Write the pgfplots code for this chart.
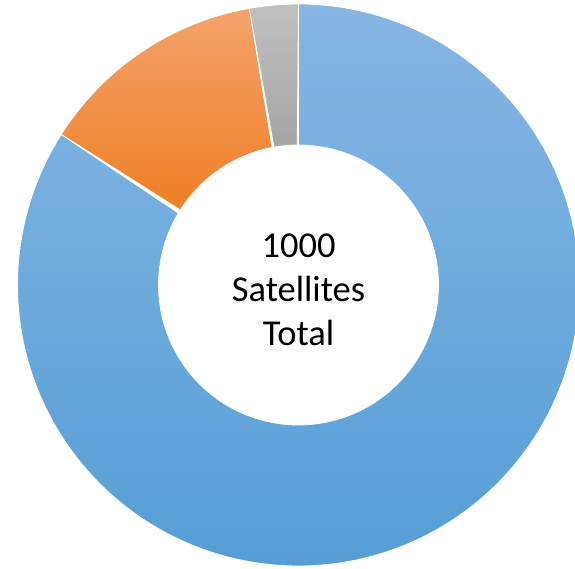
\documentclass[border=0pt]{standalone}
\usepackage{pgfplots}
\usepackage{pgfplotstable}
\pgfplotsset{compat=1.18}
\usepackage{fontspec}
\setmainfont{Carlito}
\definecolor{blueTop}{HTML}{86B6E4}
\definecolor{blueMid}{HTML}{6AACE1}
\definecolor{blueBot}{HTML}{559ED5}
\definecolor{orangeTop}{HTML}{F4A26B}
\definecolor{orangeMid}{HTML}{F78F33}
\definecolor{orangeBot}{HTML}{EE7F25}
\definecolor{grayTop}{HTML}{C0C0C0}
\definecolor{grayMid}{HTML}{B1B1B1}
\definecolor{grayBot}{HTML}{A5A5A5}
\pgfplotstableread{
label value
Blue 840
Orange 132
Gray 28
}\slices
\pgfplotstablegetelem{0}{value}\of\slices \let\vA\pgfplotsretval
\pgfplotstablegetelem{1}{value}\of\slices \let\vB\pgfplotsretval
\pgfplotstablegetelem{2}{value}\of\slices \let\vC\pgfplotsretval
\pgfmathsetmacro\tot{\vA+\vB+\vC}
\pgfmathsetmacro\aA{90-360*(\vA/\tot)}
\pgfmathsetmacro\aB{\aA-360*(\vB/\tot)}
\pgfmathsetmacro\aC{\aB-360*(\vC/\tot)}
\def\R{281}
\def\r{140}
% ring segment from angle #1 to #2 (degrees), shaded #3/#4/#5
\newcommand\ring[6]{%
\addplot[draw=white, line width=0.8pt, top color=#3, middle color=#4, bottom color=#5,
  domain=0:2, samples=#6, variable=\t]
  ({(\t<=1)*\R*cos(#1+(#2-#1)*\t) + (\t>1)*\r*cos(#2-(#2-#1)*(\t-1))},
   {(\t<=1)*\R*sin(#1+(#2-#1)*\t) + (\t>1)*\r*sin(#2-(#2-#1)*(\t-1))}) -- cycle;}
\begin{document}
\begin{tikzpicture}
\begin{axis}[
  scale only axis, width=575pt, height=569pt,
  xmin=-298.5, xmax=276.5, ymin=-284, ymax=285,
  hide axis, clip=true,
]
\ring{90}{\aA}{blueTop}{blueMid}{blueBot}{401}
\ring{\aA}{\aB}{orangeTop}{orangeMid}{orangeBot}{121}
\ring{\aB}{\aC}{grayTop}{grayMid}{grayBot}{41}
\node[align=center, font=\fontsize{36.5}{44}\selectfont, inner sep=0pt] at (axis cs:0,-5) {1000\\Satellites\\Total};
\end{axis}
\pgfresetboundingbox
\useasboundingbox (current axis.south west) rectangle (current axis.north east);
\end{tikzpicture}
\end{document}
